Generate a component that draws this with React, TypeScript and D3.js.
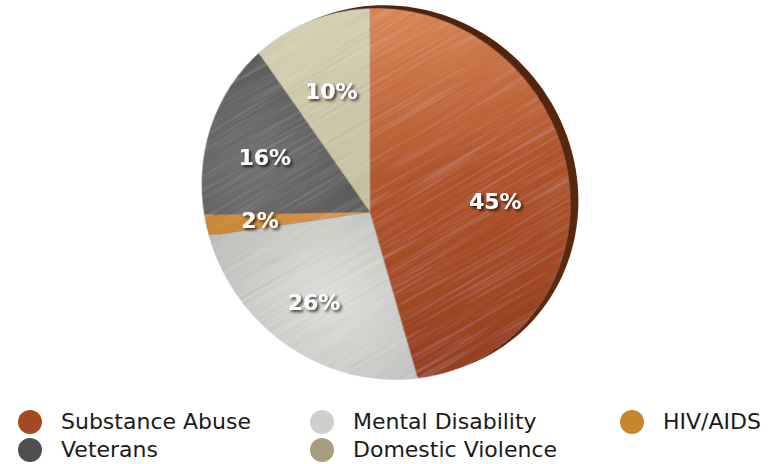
import React from "react";
import * as d3 from "d3";

const categories = ["Substance Abuse", "Mental Disability", "HIV/AIDS", "Veterans", "Domestic Violence"];
const values = [45, 26, 2, 16, 10];
const valueLabels = ["45%", "26%", "2%", "16%", "10%"];

const W = 774;
const H = 464;

const legendFills = ["#a44a22", "#cfcfcc", "#c8852f", "#4e4e4e", "#a69e7c"];

// Tilted disk: rim ellipse (center, axis angle, semi-axes) and the projected pie centre
const ELL = { cx: 386, cy: 194, psi: (49 * Math.PI) / 180, a: 190, b: 180 };
const PIE_CENTER = [370, 212];
const TOP_POINT = [370, 9];

const unit = (a: number, r = 1) => [Math.sin(a) * r, -Math.cos(a) * r];

function makeProjection(alpha: number) {
  const u1 = [Math.cos(ELL.psi), Math.sin(ELL.psi)];
  const u2 = [-Math.sin(ELL.psi), Math.cos(ELL.psi)];
  const vx = PIE_CENTER[0] - ELL.cx;
  const vy = PIE_CENTER[1] - ELL.cy;
  const q = [(vx * u1[0] + vy * u1[1]) / ELL.a, (vx * u2[0] + vy * u2[1]) / ELL.b];
  const ql = Math.hypot(q[0], q[1]);
  const d = [q[0] / ql, q[1] / ql];
  const c = 1 / Math.sqrt(1 - ql * ql);
  const s = ql * c;
  const ca = Math.cos(alpha);
  const sa = Math.sin(alpha);
  return ([x0, y0]: number[]) => {
    const x = x0 * ca - y0 * sa;
    const y = x0 * sa + y0 * ca;
    const dot = d[0] * x + d[1] * y;
    const xp = x + (c - 1) * dot * d[0] + s * d[0];
    const yp = y + (c - 1) * dot * d[1] + s * d[1];
    const t = s * dot + c;
    const k1 = (xp / t) * ELL.a;
    const k2 = (yp / t) * ELL.b;
    return [ELL.cx + k1 * u1[0] + k2 * u2[0], ELL.cy + k1 * u1[1] + k2 * u2[1]];
  };
}

export default function App() {
  const pie = d3.pie<number>().sort(null).value((d) => d).startAngle(0).endAngle(2 * Math.PI);
  const arcs = pie(values);

  // choose disk rotation so that the first slice starts at the top point
  let best = 0;
  let bestErr = Infinity;
  for (let deg = -180; deg < 180; deg += 0.1) {
    const p = makeProjection((deg * Math.PI) / 180)(unit(0));
    const e = Math.hypot(p[0] - TOP_POINT[0], p[1] - TOP_POINT[1]);
    if (e < bestErr) {
      bestErr = e;
      best = (deg * Math.PI) / 180;
    }
  }
  const proj = makeProjection(best);

  const line = d3.line<number[]>().x((d) => d[0]).y((d) => d[1]);

  const slicePath = (a0: number, a1: number) => {
    const n = Math.max(2, Math.ceil(((a1 - a0) * 180) / Math.PI));
    const pts: number[][] = [proj([0, 0])];
    for (let i = 0; i <= n; i++) pts.push(proj(unit(a0 + ((a1 - a0) * i) / n)));
    return line(pts) + "Z";
  };
  const rimPts: number[][] = d3.range(0, 361, 2).map((deg) => proj(unit((deg * Math.PI) / 180)));
  const rimPath = line(rimPts) + "Z";

  const labelPos = arcs.map((a) => proj(unit((a.startAngle + a.endAngle) / 2, 0.65)));

  const legendCols = [30, 322, 632];
  const legendRows = [422, 450];

  const sliceFill = ["url(#gc)", "url(#gm)", "url(#gh)", "url(#gv)", "url(#gd)"];

  return (
    <svg width={W} height={H} style={{ position: "absolute", left: 0, top: 0, background: "#fff" }}>
      <defs>
        <linearGradient id="gc" gradientUnits="userSpaceOnUse" x1="400" y1="10" x2="470" y2="370">
          <stop offset="0" stopColor="#d98757" />
          <stop offset="0.45" stopColor="#b3572d" />
          <stop offset="1" stopColor="#963f1e" />
        </linearGradient>
        <radialGradient id="gm" gradientUnits="userSpaceOnUse" cx="330" cy="300" r="140">
          <stop offset="0" stopColor="#dfdfdb" />
          <stop offset="1" stopColor="#bcbcba" />
        </radialGradient>
        <linearGradient id="gh" x1="0" y1="0" x2="1" y2="0">
          <stop offset="0" stopColor="#c98636" />
          <stop offset="1" stopColor="#d79a50" />
        </linearGradient>
        <radialGradient id="gv" gradientUnits="userSpaceOnUse" cx="250" cy="165" r="110">
          <stop offset="0" stopColor="#737373" />
          <stop offset="1" stopColor="#5c5c5c" />
        </radialGradient>
        <linearGradient id="gd" gradientUnits="userSpaceOnUse" x1="300" y1="20" x2="360" y2="200">
          <stop offset="0" stopColor="#d6d0b4" />
          <stop offset="1" stopColor="#c6bf9f" />
        </linearGradient>
        <linearGradient id="gside" x1="0" y1="0" x2="1" y2="1">
          <stop offset="0" stopColor="#4a1f08" />
          <stop offset="1" stopColor="#5e2a0e" />
        </linearGradient>
        <filter id="brush" x="0" y="0" width="1" height="1">
          <feTurbulence type="fractalNoise" baseFrequency="0.01 0.35" numOctaves="2" seed="4" result="n" />
          <feColorMatrix
            in="n"
            type="matrix"
            values="0.07 0.07 0.07 0 0.395  0.07 0.07 0.07 0 0.395  0.07 0.07 0.07 0 0.395  0 0 0 0 1"
            result="g"
          />
          <feBlend in="SourceGraphic" in2="g" mode="overlay" result="b" />
          <feComposite in="b" in2="SourceGraphic" operator="in" />
        </filter>
        <filter id="shadow" x="-30%" y="-30%" width="160%" height="160%">
          <feDropShadow dx="2" dy="2" stdDeviation="1.6" floodColor="#000" floodOpacity="0.75" />
        </filter>
      </defs>

      <path d={rimPath} transform="translate(8,-3)" fill="url(#gside)" />

      <g transform="rotate(-30,370,200)" filter="url(#brush)">
        <g transform="rotate(30,370,200)">
          {arcs.map((a, i) => (
            <path key={i} d={slicePath(a.startAngle, a.endAngle)} fill={sliceFill[i]} />
          ))}
        </g>
      </g>

      {arcs.map((a, i) => (
        <text
          key={i}
          x={labelPos[i][0]}
          y={labelPos[i][1]}
          textAnchor="middle"
          dominantBaseline="central"
          fontFamily="DejaVu Sans"
          fontWeight="bold"
          fontSize={22}
          fill="#fff"
          filter="url(#shadow)"
        >
          {valueLabels[i]}
        </text>
      ))}

      {categories.map((c, i) => {
        const cx = legendCols[i % 3];
        const cy = legendRows[Math.floor(i / 3)];
        return (
          <g key={c}>
            <circle cx={cx} cy={cy} r={12} fill={legendFills[i]} />
            <text x={cx + 31} y={cy + 7} fontFamily="DejaVu Sans" fontSize={22} fill="#1a1a1a">
              {c}
            </text>
          </g>
        );
      })}
    </svg>
  );
}
